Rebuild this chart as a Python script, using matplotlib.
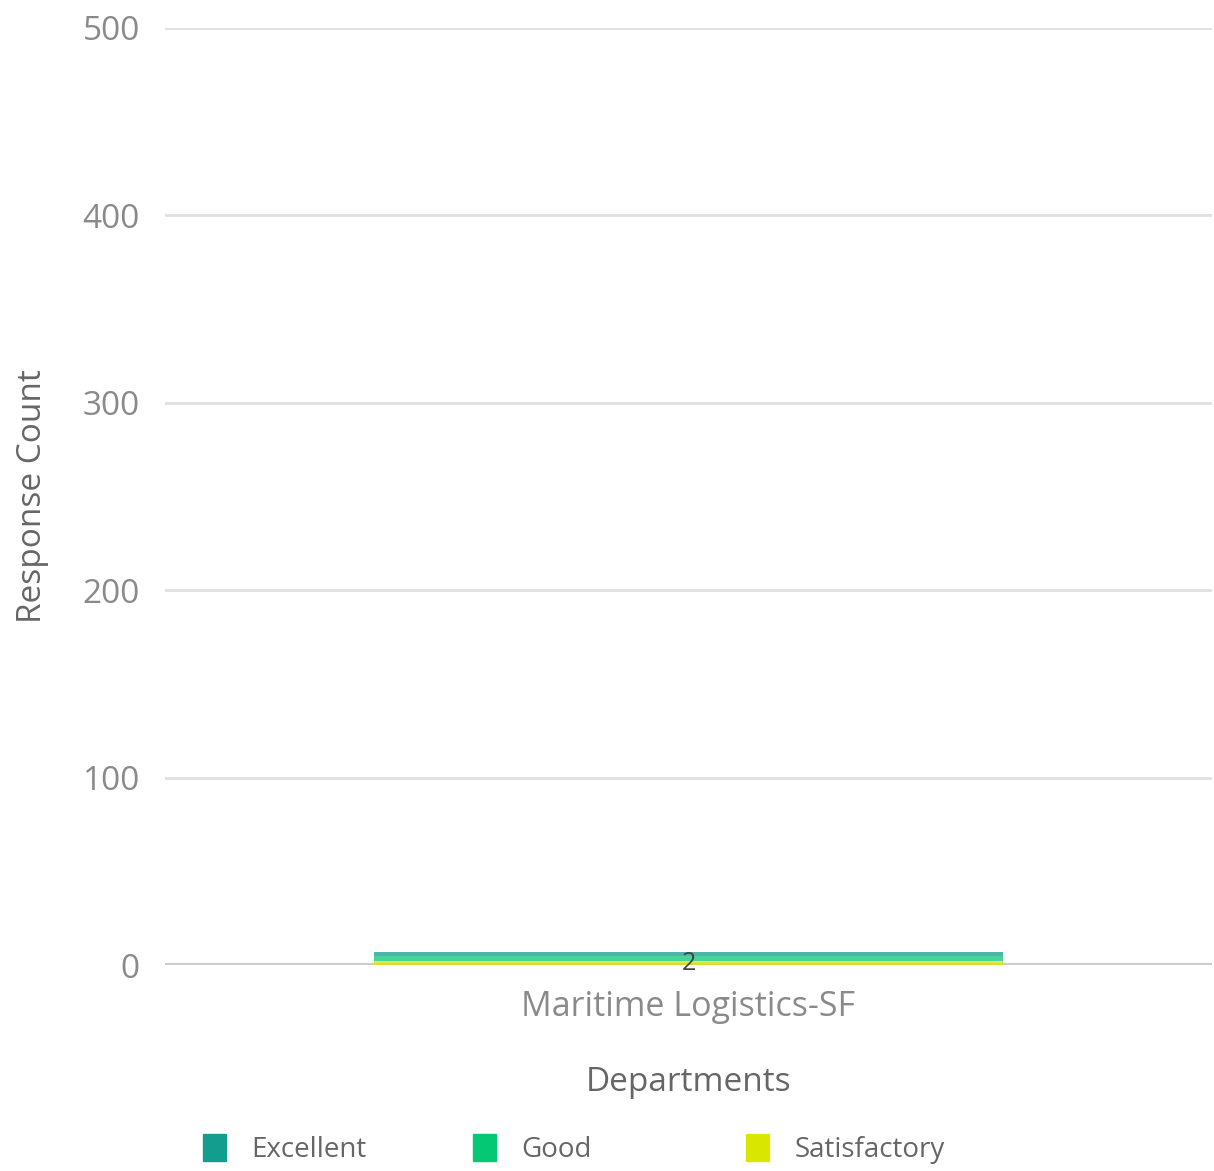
import matplotlib.pyplot as plt
import numpy as np

plt.rcParams['font.family'] = ['Open Sans', 'DejaVu Sans']

# chart data
departments = ['Maritime Logistics-SF']
ratings = ['Excellent', 'Good', 'Satisfactory']
excellent = [2]
good = [3]
satisfactory = [2]
colors = {'Excellent': '#139d8f', 'Good': '#05c874', 'Satisfactory': '#d8e600'}
yticks = [0, 100, 200, 300, 400, 500]

fig = plt.figure(figsize=(12.14, 11.71), dpi=100)
ax = fig.add_axes([165 / 1214, 1 - 965 / 1171, 1047 / 1214, 937 / 1171])

x = np.arange(len(departments))
bottom = np.zeros(len(departments))
# stacked from bottom: Satisfactory, Good, Excellent
for name, vals in [('Satisfactory', satisfactory), ('Good', good), ('Excellent', excellent)]:
    ax.bar(x, vals, width=0.6, bottom=bottom, color=colors[name], alpha=0.75,
           label=name, zorder=3)
    bottom = bottom + np.array(vals)

# only the bottom segment's label is readable in the original
for xi, v in zip(x, satisfactory):
    ax.text(xi, v / 2, str(v), ha='center', va='center', fontsize=18,
            color='#444444', zorder=4)

ax.set_xlim(-0.5, 0.5)
ax.set_ylim(0, 500)
ax.set_yticks(yticks)
ax.set_yticklabels([str(t) for t in yticks])
ax.set_xticks(x)
ax.set_xticklabels(departments)
ax.grid(axis='y', color='#e0e0e0', linewidth=2, zorder=0)
ax.axhline(0, color='#cccccc', linewidth=3, zorder=2)
for s in ax.spines.values():
    s.set_visible(False)
ax.tick_params(axis='both', length=0, labelcolor='#8a8a8a')
ax.tick_params(axis='y', pad=18, labelsize=24)
ax.tick_params(axis='x', pad=18, labelsize=24.5)
ax.set_ylabel('Response Count', fontsize=24, color='#666666', labelpad=24)
ax.set_xlabel('Departments', fontsize=24, color='#666666', labelpad=30)

# legend entries placed at even spacing like the original
legend_x = [186, 456, 729]
for r, lx in zip(ratings, legend_x):
    h = plt.Rectangle((0, 0), 1, 1, color=colors[r])
    fig.legend([h], [r], loc='lower left', bbox_to_anchor=(lx / 1214, -0.008),
               frameon=False, fontsize=20, labelcolor='#666666', borderaxespad=0.2,
               handlelength=0.85, handleheight=1.1, handletextpad=0.9)

fig.savefig('out.png', dpi=100)
